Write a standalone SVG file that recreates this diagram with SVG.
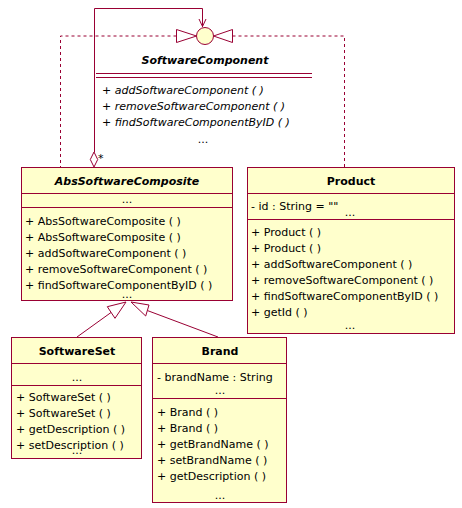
<svg xmlns="http://www.w3.org/2000/svg" width="462" height="508" viewBox="0 0 462 508">
<style>
text{font-family:"DejaVu Sans",Verdana,sans-serif;font-size:11px;fill:#000}
.n{font-weight:bold;text-anchor:middle}
.i{font-style:italic}
.c{text-anchor:middle}
.box{fill:#FFFFCC;stroke:#990033;stroke-width:1}
.ln{stroke:#990033;stroke-width:1;fill:none}
.dash{stroke:#990033;stroke-width:1;fill:none;stroke-dasharray:3,3}
.hd{fill:#fff;stroke:#990033;stroke-width:1}
</style>
<rect width="462" height="508" fill="#fff"/>
<g id="connectors">
<path class="dash" d="M176.5,36 H60.5 V167"/>
<path class="dash" d="M232.5,36 H344.5 V167"/>
<path class="ln" d="M94.5,152 V8.5 H202.5 V27"/>
<polyline class="ln" points="199,19 202.5,26.5 206,19"/>
<polygon class="hd" points="94,152 97.7,159.5 94,167 90.3,159.5"/>
<text x="98" y="162">*</text>
<path class="ln" d="M111,312.5 L77,337"/>
<polygon class="hd" points="126,302 107.3,306.7 115,318.3"/>
<path class="ln" d="M147.3,310.5 L218,337"/>
<polygon class="hd" points="131,302 149,305 145.7,316"/>
</g>
<g id="SoftwareComponent">
<polygon class="hd" points="176.5,29.5 176.5,42.5 196.5,36"/>
<polygon class="hd" points="232.5,29.5 232.5,42.5 213.5,36"/>
<circle cx="205" cy="36" r="8.5" fill="#FFFFCC" stroke="#990033"/>
<text class="n i" x="205" y="64">SoftwareComponent</text>
<path class="ln" d="M96,73.5 H312 M96,77.5 H312"/>
<text class="i" x="102" y="94">+ addSoftwareComponent ( )</text>
<text class="i" x="102" y="110">+ removeSoftwareComponent ( )</text>
<text class="i" x="102" y="126">+ findSoftwareComponentByID ( )</text>
<text class="c" x="203" y="143">...</text>
</g>
<g id="AbsSoftwareComposite">
<rect class="box" x="21.5" y="167.5" width="211" height="133"/>
<path class="ln" d="M21.5,193.5 H232.5 M21.5,207.5 H232.5"/>
<text class="n i" x="127" y="185">AbsSoftwareComposite</text>
<text class="c" x="127" y="203">...</text>
<text x="25" y="225">+ AbsSoftwareComposite ( )</text>
<text x="25" y="241">+ AbsSoftwareComposite ( )</text>
<text x="25" y="257">+ addSoftwareComponent ( )</text>
<text x="25" y="273">+ removeSoftwareComponent ( )</text>
<text x="25" y="289">+ findSoftwareComponentByID ( )</text>
<text class="c" x="127" y="298">...</text>
</g>
<g id="Product">
<rect class="box" x="247.5" y="167.5" width="207" height="166"/>
<path class="ln" d="M247.5,193.5 H454.5 M247.5,219.5 H454.5"/>
<text class="n" x="351" y="185">Product</text>
<text x="251" y="210">- id : String = ""</text>
<text class="c" x="350" y="216">...</text>
<text x="251" y="236">+ Product ( )</text>
<text x="251" y="252">+ Product ( )</text>
<text x="251" y="268">+ addSoftwareComponent ( )</text>
<text x="251" y="284">+ removeSoftwareComponent ( )</text>
<text x="251" y="300">+ findSoftwareComponentByID ( )</text>
<text x="251" y="316">+ getId ( )</text>
<text class="c" x="350" y="329">...</text>
</g>
<g id="SoftwareSet">
<rect class="box" x="11.5" y="337.5" width="130" height="121"/>
<path class="ln" d="M11.5,363.5 H141.5 M11.5,385.5 H141.5"/>
<text class="n" x="77" y="355">SoftwareSet</text>
<text class="c" x="77" y="381">...</text>
<text x="16" y="401">+ SoftwareSet ( )</text>
<text x="16" y="417">+ SoftwareSet ( )</text>
<text x="16" y="433">+ getDescription ( )</text>
<text x="16" y="449">+ setDescription ( )</text>
<text class="c" x="77" y="454">...</text>
</g>
<g id="Brand">
<rect class="box" x="152.5" y="337.5" width="134" height="165"/>
<path class="ln" d="M152.5,363.5 H286.5 M152.5,398.5 H286.5"/>
<text class="n" x="220" y="355">Brand</text>
<text x="157" y="381">- brandName : String</text>
<text class="c" x="220" y="394">...</text>
<text x="157" y="416">+ Brand ( )</text>
<text x="157" y="432">+ Brand ( )</text>
<text x="157" y="448">+ getBrandName ( )</text>
<text x="157" y="464">+ setBrandName ( )</text>
<text x="157" y="480">+ getDescription ( )</text>
<text class="c" x="220" y="499">...</text>
</g>
</svg>
